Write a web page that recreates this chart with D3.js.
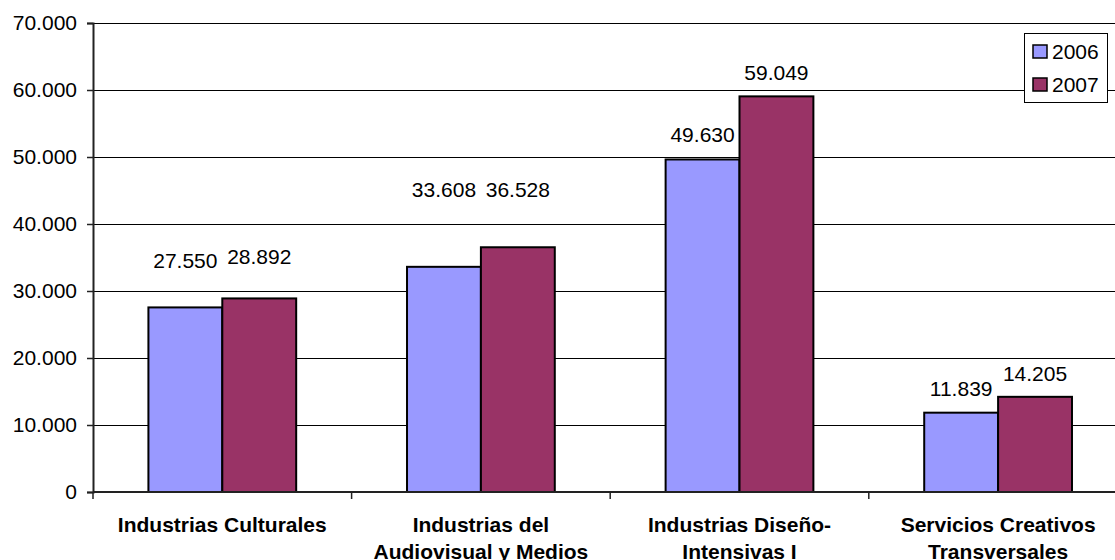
<!DOCTYPE html>
<html>
<head>
<meta charset="utf-8">
<script src="https://cdn.jsdelivr.net/npm/d3@7"></script>
<style>
  body { margin: 0; background: #fff; }
  svg { display: block; font-family: Arial, "Liberation Sans", sans-serif; }
</style>
</head>
<body>
<svg id="chart" width="1115" height="560"></svg>
<script>
const categories = [
  ["Industrias Culturales"],
  ["Industrias del", "Audiovisual y Medios"],
  ["Industrias Diseño-", "Intensivas I"],
  ["Servicios Creativos", "Transversales"]
];
const years = ["2006", "2007"];
const values2006 = [27550, 33608, 49630, 11839];
const values2007 = [28892, 36528, 59049, 14205];
// height (in axis units) where Excel left each label
const labelAt2006 = [34600, 45100, 53300, 15500];
const labelAt2007 = [35100, 45100, 62600, 17600];
const yTicks = [0, 10000, 20000, 30000, 40000, 50000, 60000, 70000];
const COLORS = ["#9999ff", "#993366"];

const svg = d3.select("#chart");
const plotLeft = 93, plotTop = 23, plotBottom = 492, catW = 258.6;
const FS = 21;

const x = d3.scaleBand().domain(d3.range(categories.length))
  .range([plotLeft, plotLeft + catW * categories.length]).paddingInner(0).paddingOuter(0);
const x1 = d3.scaleBand().domain(years).range([0, x.bandwidth()]).paddingInner(0).paddingOuter(0.75);
const y = d3.scaleLinear().domain([0, 70000]).range([plotBottom, plotTop]);

const fmt = d => d3.format(",")(d).replace(/,/g, ".");

// gridlines
svg.append("g").selectAll("line").data(yTicks.slice(1)).enter().append("line")
  .attr("x1", plotLeft).attr("x2", 1115)
  .attr("y1", d => Math.round(y(d)) + 0.5).attr("y2", d => Math.round(y(d)) + 0.5)
  .attr("stroke", "#000").attr("stroke-width", 1);

// bars
const series = [values2006, values2007];
const labelsAt = [labelAt2006, labelAt2007];
years.forEach((yr, s) => {
  svg.append("g").selectAll("rect").data(series[s]).enter().append("rect")
    .attr("x", (d, i) => x(i) + x1(yr))
    .attr("y", d => y(d))
    .attr("width", x1.bandwidth())
    .attr("height", d => plotBottom - y(d))
    .attr("fill", COLORS[s])
    .attr("stroke", "#000").attr("stroke-width", 2);

  svg.append("g").selectAll("text").data(series[s]).enter().append("text")
    .attr("x", (d, i) => x(i) + x1(yr) + x1.bandwidth() / 2)
    .attr("y", (d, i) => y(labelsAt[s][i]))
    .attr("dy", "0.35em")
    .attr("text-anchor", "middle")
    .attr("font-size", FS).attr("fill", "#000")
    .text(d => fmt(d));
});

// y axis
const yAxis = svg.append("g").attr("transform", `translate(${plotLeft},0)`)
  .call(d3.axisLeft(y).tickValues(yTicks).tickSize(6).tickPadding(10).tickFormat(fmt));
yAxis.select(".domain").attr("stroke", "#222").attr("stroke-width", 2);
yAxis.selectAll(".tick line").attr("stroke", "#222").attr("stroke-width", 1.5);
yAxis.selectAll("text").attr("font-size", FS).attr("fill", "#000")
  .attr("font-family", "Arial, 'Liberation Sans', sans-serif");

// x axis
svg.append("line").attr("x1", plotLeft).attr("x2", 1115).attr("y1", plotBottom).attr("y2", plotBottom)
  .attr("stroke", "#222").attr("stroke-width", 2);
svg.append("g").selectAll("line").data(d3.range(categories.length + 1)).enter().append("line")
  .attr("x1", i => plotLeft + i * catW).attr("x2", i => plotLeft + i * catW)
  .attr("y1", plotBottom).attr("y2", plotBottom + 7)
  .attr("stroke", "#222").attr("stroke-width", 1.5);

// category labels (second line is cut by the frame, as in the original)
const catLabels = svg.append("g").selectAll("text").data(categories).enter().append("text")
  .attr("text-anchor", "middle").attr("font-size", FS).attr("font-weight", "bold").attr("fill", "#000");
catLabels.each(function(lines, i) {
  d3.select(this).selectAll("tspan").data(lines).enter().append("tspan")
    .attr("x", x(i) + x.bandwidth() / 2)
    .attr("y", (d, j) => 532 + j * 27)
    .text(d => d);
});

// legend
const legend = svg.append("g");
legend.append("rect").attr("x", 1024.5).attr("y", 33.5).attr("width", 83).attr("height", 69)
  .attr("fill", "#fff").attr("stroke", "#000").attr("stroke-width", 1);
years.forEach((yr, s) => {
  legend.append("rect").attr("x", 1033).attr("y", 45 + s * 33).attr("width", 14).attr("height", 13)
    .attr("fill", COLORS[s]).attr("stroke", "#000").attr("stroke-width", 1.5);
  legend.append("text").attr("x", 1052).attr("y", 52 + s * 33).attr("dy", "0.35em")
    .attr("font-size", FS).attr("fill", "#000").text(yr);
});
</script>
</body>
</html>
